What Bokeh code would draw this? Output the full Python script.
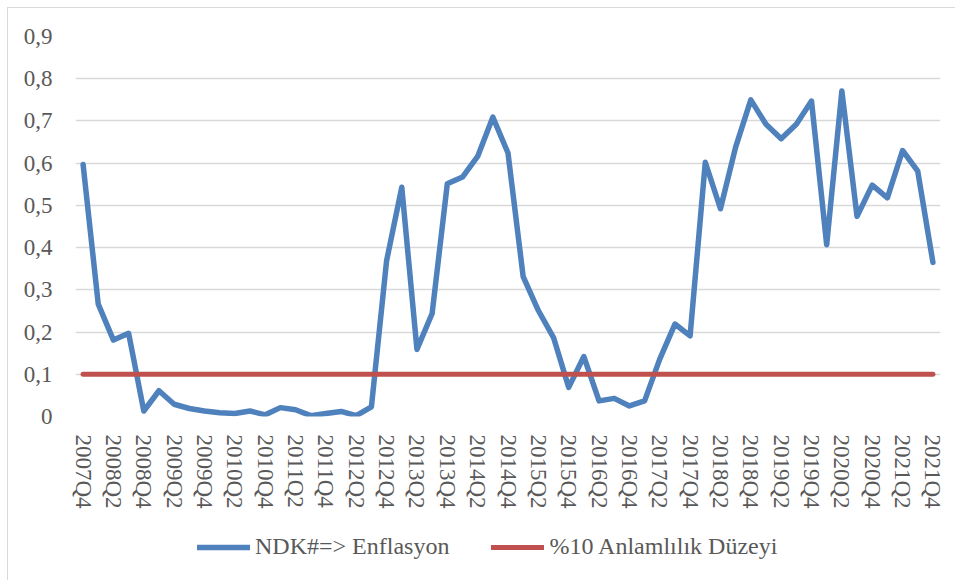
from bokeh.plotting import figure
from bokeh.layouts import column
from bokeh.models import Range1d, FixedTicker, CustomJSTickFormatter, Legend, LegendItem
from bokeh.embed import file_html
from bokeh.resources import INLINE

# ---- data ----
quarters = ["2007Q4"] + [f"{y}Q{q}" for y in range(2008, 2022) for q in (1, 2, 3, 4)]

ndk_enflasyon = [
    0.597, 0.266, 0.181, 0.197, 0.013, 0.061, 0.029, 0.019, 0.013, 0.009,
    0.007, 0.013, 0.004, 0.021, 0.016, 0.002, 0.007, 0.012, 0.002, 0.023,
    0.369, 0.543, 0.159, 0.244, 0.551, 0.567, 0.616, 0.709, 0.624, 0.331,
    0.251, 0.187, 0.069, 0.142, 0.037, 0.043, 0.025, 0.037, 0.136, 0.219,
    0.191, 0.602, 0.492, 0.638, 0.750, 0.692, 0.658, 0.692, 0.747, 0.407,
    0.771, 0.474, 0.548, 0.518, 0.630, 0.581, 0.365,
]
significance_level = 0.1
significance = [significance_level] * len(quarters)

y_ticks = [0, 0.1, 0.2, 0.3, 0.4, 0.5, 0.6, 0.7, 0.8, 0.9]
x_tick_idx = list(range(0, len(quarters), 2))

series_names = ["NDK#=> Enflasyon", "%10 Anlamlılık Düzeyi"]
colors = ["#4F81BD", "#C0504D"]

FONT = "Liberation Serif"
TXT = "#595959"

x = list(range(len(quarters)))
W = 947

p = figure(width=W, height=510, output_backend="svg", toolbar_location=None,
           x_range=Range1d(-0.5, len(quarters) - 0.5), y_range=Range1d(0, 0.9),
           min_border_left=67, min_border_right=15, min_border_top=28, min_border_bottom=102)
p.outline_line_color = None
p.background_fill_color = "white"
p.border_fill_color = "white"

r1 = p.line(x, ndk_enflasyon, line_color=colors[0], line_width=5.5,
            line_cap="round", line_join="round")
r2 = p.line(x, significance, line_color=colors[1], line_width=5,
            line_cap="round", line_join="round")

# y axis
p.yaxis.ticker = FixedTicker(ticks=y_ticks)
p.yaxis.formatter = CustomJSTickFormatter(
    code="return Math.abs(tick) < 1e-9 ? '0' : tick.toFixed(1).replace('.', ',');")
p.yaxis.axis_line_color = None
p.yaxis.major_tick_line_color = None
p.yaxis.minor_tick_line_color = None
p.yaxis.major_label_standoff = 17
p.yaxis.major_label_text_font = FONT
p.yaxis.major_label_text_font_size = "23px"
p.yaxis.major_label_text_color = TXT

# x axis
p.xaxis.ticker = FixedTicker(ticks=x_tick_idx)
p.xaxis.major_label_overrides = {i: quarters[i] for i in x_tick_idx}
p.xaxis.major_label_orientation = "vertical"
p.xaxis.axis_line_color = None
p.xaxis.major_tick_line_color = None
p.xaxis.minor_tick_line_color = None
p.xaxis.major_label_standoff = 12
p.xaxis.major_label_text_font = FONT
p.xaxis.major_label_text_font_size = "23px"
p.xaxis.major_label_text_color = TXT

# grid
p.xgrid.grid_line_color = None
p.ygrid.grid_line_color = "#d9d9d9"
p.ygrid.grid_line_width = 1.3

# legend strip below the chart (same series, drawn out of view)
lf = figure(width=W, height=62, output_backend="svg", toolbar_location=None,
            x_range=Range1d(1000, 1001), y_range=Range1d(0, 1),
            x_axis_location=None, y_axis_location=None,
            min_border_left=0, min_border_right=0, min_border_top=0, min_border_bottom=0)
lf.outline_line_color = None
lf.xgrid.grid_line_color = None
lf.ygrid.grid_line_color = None
l1 = lf.line(x, ndk_enflasyon, line_color=colors[0], line_width=5.5, line_cap="round")
l2 = lf.line(x, significance, line_color=colors[1], line_width=5, line_cap="round")

legend = Legend(items=[LegendItem(label=series_names[0], renderers=[l1]),
                       LegendItem(label=series_names[1], renderers=[l2])],
                orientation="horizontal", location=(122, 20),
                padding=0, margin=0, spacing=42, glyph_width=53, glyph_height=20,
                label_standoff=5, border_line_color=None, background_fill_alpha=0,
                label_text_font=FONT, label_text_font_size="24px", label_text_color=TXT)
lf.add_layout(legend, "center")

layout = column(p, lf, spacing=0)
layout.styles = {"margin-left": "7px", "margin-top": "7px",
                 "border-left": "1px solid #d9d9d9", "border-top": "1px solid #d9d9d9"}

open("out.html", "w").write(file_html(layout, INLINE))
